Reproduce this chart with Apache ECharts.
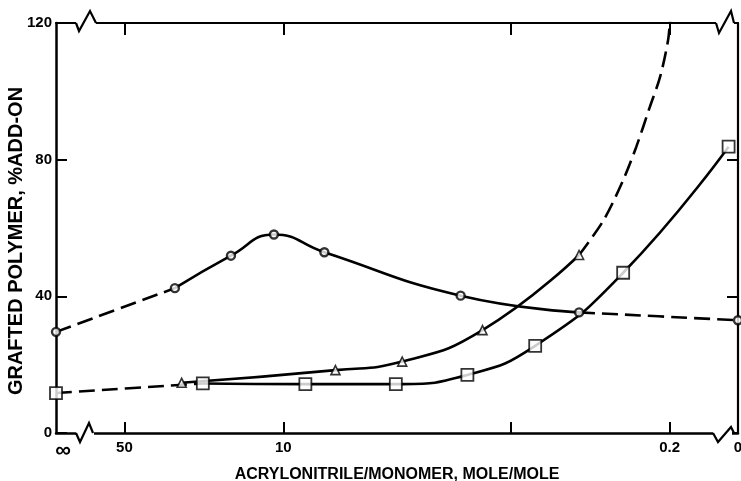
<!DOCTYPE html>
<html>
<head>
<meta charset="utf-8">
<script src="https://cdn.jsdelivr.net/npm/echarts@6/dist/echarts.min.js"></script>
<style>
  html, body { margin: 0; padding: 0; background: #fff; }
  #chart { width: 741px; height: 481px; }
</style>
</head>
<body>
<div id="chart"></div>
<script>
// ---- data (ratio = acrylonitrile/monomer, mole/mole; Infinity and 0 are the axis-break ends)
const circleRatio = [Infinity, 30, 17, 11, 6.6, 1.66, 0.5, 0];
const circleValue = [29.6, 42.4, 51.9, 58.1, 52.9, 40.2, 35.3, 33.0];

const triangleRatio = [28, 5.9, 3.0, 1.33, 0.5];
const triangleValue = [14.7, 18.4, 20.9, 30.1, 52.1];
// dashed continuation of the triangle curve beyond its last point
const triangleTrendRatio = [0.5, 0.39, 0.32, 0.28, 0.244, 0.22, 0.203, 0.199];
const triangleTrendValue = [52.1, 62.3, 74.0, 83.8, 95.5, 104.3, 115, 121];

const squareRatio = [Infinity, 22.6, 8.0, 3.2, 1.55, 0.78, 0.32, 0.11];
const squareValue = [11.7, 14.5, 14.3, 14.3, 17.0, 25.5, 46.9, 83.8];

const xTickRatios = [50, 10, 1, 0.2];
const xLabelRatios = [Infinity, 50, 10, 0.2, 0];
const xLabelTexts = ['∞', '50', '10', '0.2', '0'];
const yTicks = [0, 40, 80, 120];

// ---- axis transform: position = -log10(ratio); ∞ sits at -2, 0 sits at 1 (broken axis ends)
const toAxis = r => r === Infinity ? -2 : (r === 0 ? 1 : -Math.log10(r));
const pts = (rs, vs, a, b) => rs.slice(a, b).map((r, i) => [toAxis(r), vs[a + i]]);

const FONT = 'Liberation Sans';
const SOLID = { color: '#000', width: 2.6, type: 'solid' };
const DASH = { color: '#000', width: 2.6, type: [16, 7] };

function line(data, style, smooth) {
  return { type: 'line', data, smooth: smooth == null ? 0.5 : smooth, showSymbol: false, symbol: 'none',
           lineStyle: style, z: 2, animation: false, silent: true };
}
function markers(data, symbol, size, bw) {
  return { type: 'scatter', data, symbol, symbolSize: size, z: 5, animation: false,
           itemStyle: { color: '#fff', borderColor: '#000', borderWidth: bw } };
}

const labelAxisVals = xLabelRatios.map(toAxis);
const tickAxisVals = xTickRatios.map(toAxis);

const chart = echarts.init(document.getElementById('chart'), null, { renderer: 'canvas' });
chart.setOption({
  animation: false,
  backgroundColor: '#fff',
  grid: { left: 56, right: 3, top: 23, bottom: 48, containLabel: false, outerBoundsMode: 'none' },
  xAxis: [{
    type: 'value', min: -2, max: 1, position: 'bottom',
    splitLine: { show: false },
    axisLine: { show: true, onZero: false, lineStyle: { color: '#000', width: 2.5 } },
    axisTick: { show: true, inside: true, length: 11, customValues: tickAxisVals,
                lineStyle: { color: '#000', width: 2 } },
    axisLabel: {
      show: true, customValues: labelAxisVals, margin: 7, showMinLabel: true, showMaxLabel: true,
      color: '#000', fontFamily: FONT, fontWeight: 'bold', fontSize: 15,
      formatter: v => {
        const i = labelAxisVals.findIndex(a => Math.abs(a - v) < 1e-6);
        const t = i >= 0 ? xLabelTexts[i] : '';
        return i === 0 ? '{inf|' + t + '}' : t;
      },
      rich: { inf: { fontFamily: FONT, fontWeight: 'bold', fontSize: 22, padding: [0, 0, 0, 14], color: '#000' } }
    },
    name: 'ACRYLONITRILE/MONOMER, MOLE/MOLE', nameLocation: 'middle', nameGap: 19,
    nameTextStyle: { color: '#000', fontFamily: FONT, fontWeight: 'bold', fontSize: 16 }
  }, {
    type: 'value', min: -2, max: 1, position: 'top',
    splitLine: { show: false },
    axisLine: { show: true, onZero: false, lineStyle: { color: '#000', width: 2.2 } },
    axisTick: { show: true, inside: true, length: 12, customValues: tickAxisVals,
                lineStyle: { color: '#000', width: 2 } },
    axisLabel: { show: false }
  }],
  yAxis: [{
    type: 'value', min: 0, max: 120, interval: 40, position: 'left',
    splitLine: { show: false },
    axisLine: { show: true, onZero: false, lineStyle: { color: '#000', width: 2.5 } },
    axisTick: { show: true, inside: true, length: 11, lineStyle: { color: '#000', width: 2 } },
    axisLabel: { color: '#000', fontFamily: FONT, fontWeight: 'bold', fontSize: 15, margin: 4,
                 customValues: yTicks },
    name: 'GRAFTED POLYMER, %ADD-ON', nameLocation: 'middle', nameGap: 30, nameMoveOverlap: false,
    nameTextStyle: { color: '#000', fontFamily: FONT, fontWeight: 'bold', fontSize: 20,
                     padding: [0, 26, 0, 0] }
  }, {
    type: 'value', min: 0, max: 120, interval: 40, position: 'right',
    splitLine: { show: false },
    axisLine: { show: true, onZero: false, lineStyle: { color: '#000', width: 2.2 } },
    axisTick: { show: true, inside: true, length: 11, lineStyle: { color: '#000', width: 2 } },
    axisLabel: { show: false }
  }],
  series: [
    // circles
    line(pts(circleRatio, circleValue, 0, 2), DASH),
    line(pts(circleRatio, circleValue, 1, 7), SOLID),
    line(pts(circleRatio, circleValue, 6, 8), DASH),
    markers(pts(circleRatio, circleValue, 0, 8), 'circle', 8, 2.4),
    // triangles
    line(pts(triangleRatio, triangleValue, 0, 5), SOLID),
    line(pts(triangleTrendRatio, triangleTrendValue, 0, 8), DASH, 0.3),
    markers(pts(triangleRatio, triangleValue, 0, 5), 'triangle', 9, 1.6),
    // squares
    line(pts(squareRatio, squareValue, 0, 2), DASH),
    line(pts(squareRatio, squareValue, 1, 8), SOLID),
    markers(pts(squareRatio, squareValue, 0, 8), 'rect', 12, 1.8)
  ]
});

// ---- axis-break zigzags, placed relative to the grid corners
const bl = chart.convertToPixel({ gridIndex: 0 }, [-2, 0]);
const tr = chart.convertToPixel({ gridIndex: 0 }, [1, 120]);
const L = bl[0], B = bl[1], R = tr[0], T = tr[1];
function zig(x0, x1, y, pts) {
  return [
    { type: 'rect', shape: { x: x0, y: y - 3, width: x1 - x0, height: 6 }, style: { fill: '#fff' }, z: 50 },
    { type: 'polyline', shape: { points: pts }, style: { stroke: '#000', lineWidth: 2.2, fill: null }, z: 51 }
  ];
}
chart.setOption({
  graphic: [].concat(
    zig(L + 20, L + 38, B, [[L + 20, B], [L + 24, B + 9], [L + 33, B - 10], [L + 37, B]]),
    zig(L + 20, L + 40, T, [[L + 20, T], [L + 23, T + 8], [L + 34, T - 12], [L + 40, T]]),
    zig(R - 22, R - 4, T, [[R - 22, T], [R - 19, T + 10], [R - 7, T - 12], [R - 4, T]]),
    zig(R - 25, R - 6, B, [[R - 25, B], [R - 20, B + 9], [R - 7, B - 6], [R - 4, B]])
  )
});
</script>
</body>
</html>
